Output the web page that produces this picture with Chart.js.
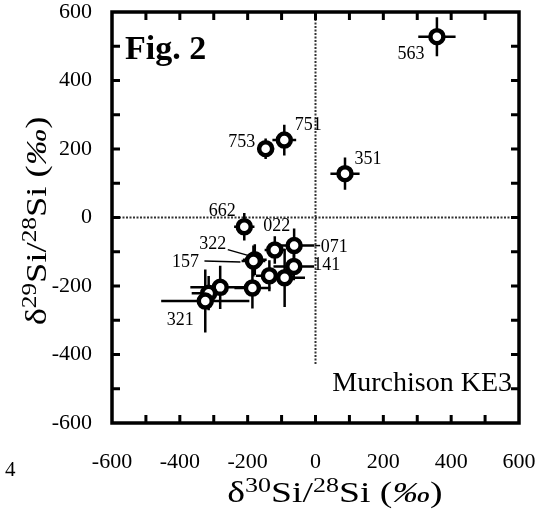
<!DOCTYPE html>
<html>
<head>
<meta charset="utf-8">
<script src="https://cdn.jsdelivr.net/npm/chart.js@4.4.1/dist/chart.umd.min.js"></script>
<style>
  html, body { margin: 0; padding: 0; background: #fff; }
  #wrap { width: 560px; height: 515px; position: relative; }
</style>
</head>
<body>
<div id="wrap"><canvas id="c" width="560" height="515"></canvas></div>
<script>
// Presolar SiC grains, Murchison KE3: silicon isotope ratios (permil)
const grains  = ['563','751','753','351','662','022','071','322','157','141','','','','','','321'];
const d30Si   = [358, -92, -147, 87, -210, -120, -63, -179, -183, -64, -136, -91, -186, -281, -315, -325];
const d29Si   = [528, 226, 201, 128, -27, -95, -82, -123, -127, -143, -170, -176, -206, -204, -221, -244];
const sigma30 = [55, 35, 25, 43, 30, 30, 60, 35, 35, 60, 40, 60, 53, 88, 50, 130];
const sigma29 = [57, 45, 30, 47, 40, 40, 50, 45, 45, 40, 45, 85, 60, 63, 50, 92];
const axisTicks = [-600, -400, -200, 0, 200, 400, 600];

// where each grain number sits relative to its symbol (pixels), with optional leader line
const labelSpots = {
  '563': { dx: -26, dy: 18 },
  '751': { dx: 24, dy: -15 },
  '753': { dx: -24, dy: -6 },
  '351': { dx: 23, dy: -14 },
  '662': { dx: -22, dy: -15 },
  '022': { dx: 2, dy: -24 },
  '071': { dx: 40, dy: 2, lead: [[21, 0], [26, 0]] },
  '141': { dx: 33, dy: -1 },
  '322': { dx: -42, dy: -15, lead: [[-27, -10], [-6, -4]] },
  '157': { dx: -68, dy: 1, lead: [[-49, 0], [-13, 1]] },
  '321': { dx: -25, dy: 19 }
};

const SERIF = '"Liberation Serif", "Times New Roman", serif';

function partFont(p, size) {
  const s = p.sup ? Math.round(size * 0.7) : size;
  return (p.it ? 'italic ' : '') + s + 'px ' + SERIF;
}
// draws a title with raised isotope numbers, centred on (cx, baseY), widened by sx
function drawRich(ctx, parts, cx, baseY, size, sx) {
  let w = 0;
  parts.forEach(p => { ctx.font = partFont(p, size); w += ctx.measureText(p.t).width; });
  ctx.save();
  ctx.translate(cx, baseY);
  ctx.scale(sx, 1);
  let xx = -w / 2;
  ctx.textAlign = 'left';
  ctx.textBaseline = 'alphabetic';
  parts.forEach(p => {
    ctx.font = partFont(p, size);
    ctx.fillText(p.t, xx, p.sup ? -size * 0.36 : 0);
    xx += ctx.measureText(p.t).width;
  });
  ctx.restore();
}

const xTitle = [{t: 'δ'}, {t: '30', sup: true}, {t: 'Si/'}, {t: '28', sup: true}, {t: 'Si ('}, {t: '‰', it: true}, {t: ')'}];
const yTitle = [{t: 'δ'}, {t: '29', sup: true}, {t: 'Si/'}, {t: '28', sup: true}, {t: 'Si ('}, {t: '‰', it: true}, {t: ')'}];

const figurePlugin = {
  id: 'figure',
  beforeDatasetsDraw(chart) {
    const { ctx, chartArea: a, scales: { x, y } } = chart;
    ctx.save();
    // zero reference lines
    ctx.strokeStyle = '#333';
    ctx.lineWidth = 2;
    ctx.setLineDash([2, 1.5]);
    ctx.beginPath();
    ctx.moveTo(a.left, y.getPixelForValue(0));
    ctx.lineTo(a.right, y.getPixelForValue(0));
    ctx.moveTo(x.getPixelForValue(0), a.top);
    ctx.lineTo(x.getPixelForValue(0), y.getPixelForValue(-430));
    ctx.stroke();
    ctx.setLineDash([]);
    // 1-sigma error bars
    ctx.strokeStyle = '#000';
    ctx.lineWidth = 2.5;
    d30Si.forEach((v, i) => {
      const px = x.getPixelForValue(v), py = y.getPixelForValue(d29Si[i]);
      ctx.beginPath();
      ctx.moveTo(x.getPixelForValue(v - sigma30[i]), py);
      ctx.lineTo(x.getPixelForValue(v + sigma30[i]), py);
      ctx.moveTo(px, y.getPixelForValue(d29Si[i] - sigma29[i]));
      ctx.lineTo(px, y.getPixelForValue(d29Si[i] + sigma29[i]));
      ctx.stroke();
    });
    ctx.restore();
  },
  afterDraw(chart) {
    const { ctx, chartArea: a, scales: { x, y } } = chart;
    ctx.save();
    ctx.fillStyle = '#000';
    ctx.strokeStyle = '#000';

    // inward tick marks every 100 on all four sides
    ctx.lineWidth = 3;
    ctx.beginPath();
    for (let v = -500; v <= 500; v += 100) {
      const px = x.getPixelForValue(v), py = y.getPixelForValue(v);
      ctx.moveTo(px, a.bottom); ctx.lineTo(px, a.bottom - 8);
      ctx.moveTo(px, a.top); ctx.lineTo(px, a.top + 8);
      ctx.moveTo(a.left, py); ctx.lineTo(a.left + 8, py);
      ctx.moveTo(a.right, py); ctx.lineTo(a.right - 8, py);
    }
    ctx.stroke();

    // frame
    ctx.lineWidth = 3.5;
    ctx.strokeRect(a.left, a.top, a.right - a.left, a.bottom - a.top);

    // grain numbers
    ctx.font = '18px ' + SERIF;
    ctx.textAlign = 'center';
    ctx.textBaseline = 'middle';
    ctx.lineWidth = 1.5;
    grains.forEach((g, i) => {
      const spot = labelSpots[g];
      if (!g || !spot) return;
      const px = x.getPixelForValue(d30Si[i]), py = y.getPixelForValue(d29Si[i]);
      ctx.fillText(g, px + spot.dx, py + spot.dy);
      if (spot.lead) {
        ctx.beginPath();
        ctx.moveTo(px + spot.lead[0][0], py + spot.lead[0][1]);
        ctx.lineTo(px + spot.lead[1][0], py + spot.lead[1][1]);
        ctx.stroke();
      }
    });

    // panel annotations
    ctx.textAlign = 'left';
    ctx.textBaseline = 'alphabetic';
    ctx.font = 'bold 34px ' + SERIF;
    ctx.fillText('Fig. 2', a.left + 13, 59);
    ctx.font = '28px ' + SERIF;
    ctx.textAlign = 'right';
    ctx.fillText('Murchison KE3', a.right - 7, 391);

    // stray page number at the margin
    ctx.textAlign = 'left';
    ctx.font = '21px ' + SERIF;
    ctx.fillText('4', 5, 476);

    // axis titles
    drawRich(ctx, xTitle, 335, 502, 29, 1.3);
    ctx.translate(46, 221);
    ctx.rotate(-Math.PI / 2);
    drawRich(ctx, yTitle, 0, 0, 29, 1.26);
    ctx.restore();
  }
};

const tickFont = { family: SERIF, size: 22 };

new Chart(document.getElementById('c'), {
  type: 'scatter',
  data: {
    datasets: [{
      data: d30Si.map((v, i) => ({ x: v, y: d29Si[i] })),
      pointStyle: 'circle',
      pointRadius: 6.5,
      pointBorderWidth: 4.5,
      pointBackgroundColor: '#fff',
      pointBorderColor: '#000'
    }]
  },
  options: {
    responsive: false,
    animation: false,
    devicePixelRatio: 1,
    layout: { autoPadding: false, padding: { top: 12, right: 41, left: 0, bottom: 0 } },
    plugins: { legend: { display: false }, tooltip: { enabled: false } },
    scales: {
      x: {
        type: 'linear', min: -600, max: 600,
        afterBuildTicks: s => { s.ticks = axisTicks.map(v => ({ value: v })); },
        afterFit: s => { s.height = 92; s.paddingLeft = 0; s.paddingRight = 0; },
        grid: { display: false, drawTicks: false },
        border: { display: false },
        ticks: { font: tickFont, color: '#000', padding: 26, maxRotation: 0 }
      },
      y: {
        type: 'linear', min: -600, max: 600,
        afterBuildTicks: s => { s.ticks = axisTicks.map(v => ({ value: v })); },
        afterFit: s => { s.width = 112; s.paddingTop = 0; s.paddingBottom = 0; },
        grid: { display: false, drawTicks: false },
        border: { display: false },
        ticks: { font: tickFont, color: '#000', padding: 20 }
      }
    }
  },
  plugins: [figurePlugin]
});
</script>
</body>
</html>
